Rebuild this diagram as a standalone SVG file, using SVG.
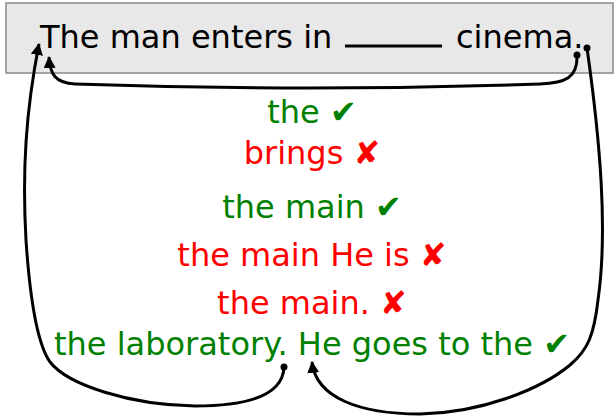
<svg xmlns="http://www.w3.org/2000/svg" width="614" height="418" viewBox="0 0 614 418">
<defs>
<style>
text{font-family:"DejaVu Sans","Liberation Sans",sans-serif;font-size:32px}
.ok{fill:#008000}
.bad{fill:#ff0000}
.c{stroke:#000;stroke-width:3;fill:none}
</style>
<marker id="ah" viewBox="0 0 12 12" refX="11" refY="6" markerWidth="12" markerHeight="12" markerUnits="userSpaceOnUse" orient="auto">
<path d="M0,0 L12,6 L0,12 Z" fill="#000"/>
</marker>
<marker id="dot" viewBox="0 0 8 8" refX="4" refY="4" markerWidth="8" markerHeight="8" markerUnits="userSpaceOnUse">
<circle cx="4" cy="4" r="3.5" fill="#000"/>
</marker>
</defs>
<rect width="614" height="418" fill="#fff"/>
<g id="sentence">
<rect x="6" y="3" width="607" height="70" fill="#e8e8e8" stroke="#888" stroke-width="1.5"/>
<text x="40" y="48">The man enters in</text>
<line x1="345" y1="46" x2="442" y2="46" stroke="#000" stroke-width="3"/>
<text x="456" y="48">cinema.</text>
</g>
<g id="options" text-anchor="middle">
<text class="ok" x="312" y="123">the ✔</text>
<text class="bad" x="312" y="164">brings ✘</text>
<text class="ok" x="312" y="218">the main ✔</text>
<text class="bad" x="312" y="266">the main He is ✘</text>
<text class="bad" x="312" y="314">the main. ✘</text>
<text class="ok" x="312" y="355">the laboratory. He goes to the ✔</text>
</g>
<g id="connectors">
<path class="c" marker-start="url(#dot)" marker-end="url(#ah)" d="M577,55 C578,78 565,83 540,84 Q310,92 75,84 C55,83 50,74 49,57"/>
<path class="c" marker-start="url(#dot)" marker-end="url(#ah)" d="M587,48 C600,140 608,230 598,300 C594,335 588,350 570,365 C540,390 480,413 420,414 C360,414 316,398 312,362"/>
<path class="c" marker-start="url(#dot)" marker-end="url(#ah)" d="M284,367 C283,395 250,406 195,406 C130,405 68,385 50,362 C38,345 30,300 26,240 C22,170 26,110 39,44"/>
</g>
</svg>
